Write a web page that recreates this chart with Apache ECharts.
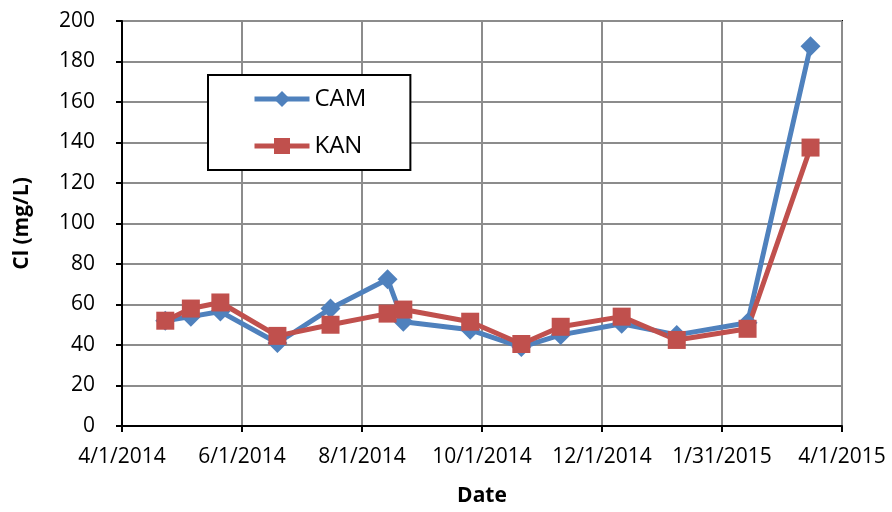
<!DOCTYPE html>
<html>
<head>
<meta charset="utf-8">
<script src="https://cdn.jsdelivr.net/npm/echarts@6/dist/echarts.min.js"></script>
<style>
  html, body { margin: 0; padding: 0; background: #fff; }
  #main { width: 892px; height: 512px; }
</style>
</head>
<body>
<div id="main"></div>
<script>
// sampling dates
var sampleDates = ['2014-04-23', '2014-05-06', '2014-05-21', '2014-06-19', '2014-07-16', '2014-08-14', '2014-08-22',
  '2014-09-25', '2014-10-21', '2014-11-10', '2014-12-11', '2015-01-08', '2015-02-13', '2015-03-17'];
var camValues = [52, 54, 56.5, 41, 58, 72.5, 51.5, 47.5, 39, 45, 50.5, 45, 51, 187.5];
var kanValues = [52, 58, 61, 44.5, 50, 55.5, 57.5, 51.5, 40.5, 49, 54, 42.5, 48, 137.5];
var xTickLabels = ['4/1/2014', '6/1/2014', '8/1/2014', '10/1/2014', '12/1/2014', '1/31/2015', '4/1/2015'];

var font = '"Open Sans", "Noto Sans", sans-serif';
var startDay = Date.UTC(2014, 3, 1);

// days since 4/1/2014
function dayOf(s) {
  var p = s.split('-');
  return Math.round((Date.UTC(+p[0], +p[1] - 1, +p[2]) - startDay) / 86400000);
}
function pairs(vals) {
  return vals.map(function (v, i) { return [dayOf(sampleDates[i]), v]; });
}

var chart = echarts.init(document.getElementById('main'));
chart.setOption({
  animation: false,
  backgroundColor: '#fff',
  grid: {
    left: 122, right: 50, top: 21, bottom: 84,
    show: true, borderColor: '#000', borderWidth: 2
  },
  legend: {
    orient: 'vertical',
    left: 208, top: 75,
    padding: [11, 44, 11, 44],
    backgroundColor: '#fff',
    borderColor: '#000',
    borderWidth: 2,
    itemWidth: 55, itemHeight: 20, itemGap: 21,
    lineStyle: { width: 5 },
    textStyle: { fontFamily: font, fontSize: 24, color: '#000', lineHeight: 26 },
    data: ['CAM', 'KAN']
  },
  xAxis: {
    type: 'value',
    min: 0, max: 366, interval: 61,
    name: 'Date', nameLocation: 'middle', nameGap: 60,
    nameTextStyle: { fontFamily: font, fontSize: 21, fontWeight: 'bold', color: '#000' },
    axisLine: { lineStyle: { color: '#000', width: 2 } },
    axisTick: { show: true, length: 6, lineStyle: { color: '#000', width: 2 } },
    axisLabel: {
      fontFamily: font, fontSize: 21, color: '#000', margin: 21,
      formatter: function (v) { return xTickLabels[Math.round(v / 61)]; }
    },
    splitLine: { show: true, lineStyle: { color: '#8c8c8c', width: 2 } }
  },
  yAxis: {
    type: 'value',
    min: 0, max: 200, interval: 20,
    name: 'Cl (mg/L)', nameLocation: 'middle', nameGap: 89,
    nameTextStyle: { fontFamily: font, fontSize: 21, fontWeight: 'bold', color: '#000' },
    axisLine: { show: true, lineStyle: { color: '#000', width: 2 } },
    axisTick: { show: true, length: 6, lineStyle: { color: '#000', width: 2 } },
    axisLabel: { fontFamily: font, fontSize: 21, color: '#000', margin: 27 },
    splitLine: { show: true, lineStyle: { color: '#8c8c8c', width: 2 } }
  },
  series: [
    {
      name: 'CAM', type: 'line',
      data: pairs(camValues),
      symbol: 'diamond', symbolSize: 20,
      itemStyle: { color: '#4F81BD' },
      lineStyle: { color: '#4F81BD', width: 5 }
    },
    {
      name: 'KAN', type: 'line',
      data: pairs(kanValues),
      symbol: 'rect', symbolSize: 18,
      itemStyle: { color: '#C0504D' },
      lineStyle: { color: '#C0504D', width: 5 }
    }
  ]
});
</script>
</body>
</html>
